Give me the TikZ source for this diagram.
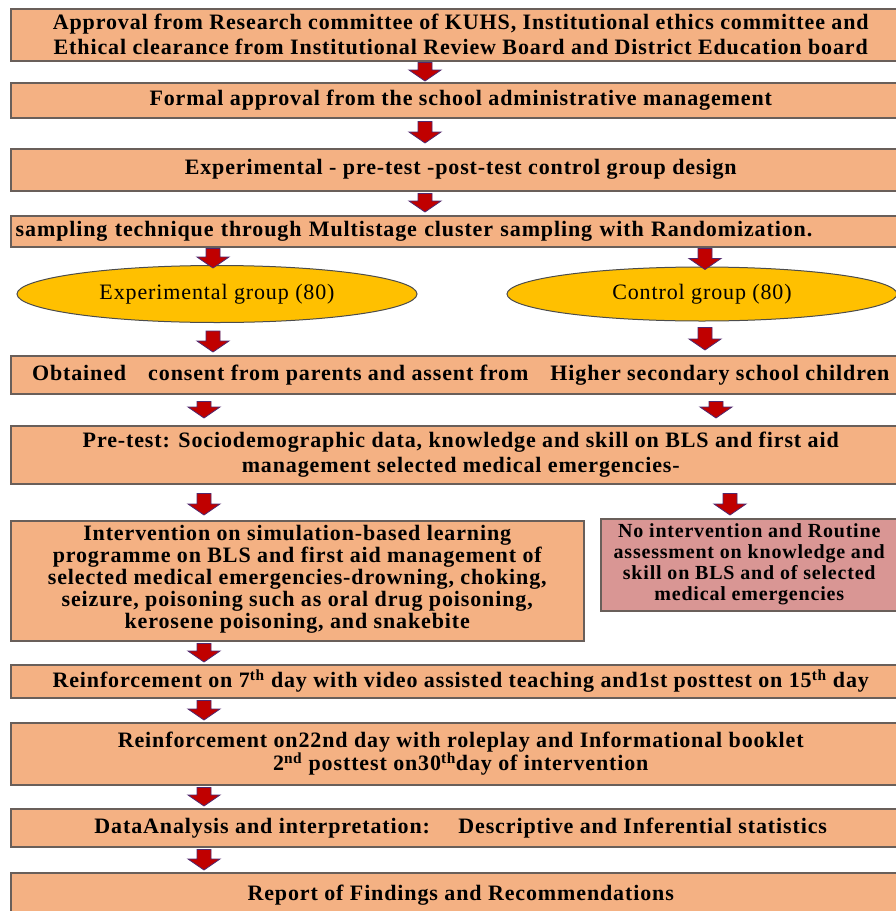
\documentclass[tikz,border=0pt]{standalone}
\usepackage{fontspec}
\setmainfont{Liberation Serif}[LetterSpace=4]
\usetikzlibrary{shapes.geometric,calc}

\definecolor{peach}{RGB}{244,177,131}
\definecolor{boxline}{RGB}{105,95,90}
\definecolor{gold}{RGB}{255,192,0}
\definecolor{rose}{RGB}{217,150,148}
\definecolor{arrred}{RGB}{192,0,0}
\definecolor{arrline}{RGB}{80,40,110}

\newcommand{\bxfont}{\fontsize{22}{25}\selectfont\bfseries}

\tikzset{
  stepbox/.style={draw=boxline, line width=1.5pt, fill=peach, anchor=north west,
    minimum width=900pt, align=center, font=\bxfont, inner sep=2pt},
  grpell/.style={ellipse, draw=black!70, line width=1pt, fill=gold,
    font=\fontsize{22}{25}\selectfont},
  gapin/.store in=\gapin, gapout/.store in=\gapout, gapin=2, gapout=2,
  blockarr/.style={fill=arrred, draw=arrline, line width=0.8pt,
    to path={let \p1=(\tikztostart), \p2=(\tikztotarget) in
      (\x1-7,\y1-\gapin) -- (\x1+7,\y1-\gapin) -- (\x1+7,\y2+\gapout+11)
      -- (\x1+16,\y2+\gapout+11) -- (\x1,\y2+\gapout) -- (\x1-16,\y2+\gapout+11)
      -- (\x1-7,\y2+\gapout+11) -- cycle}}
}

\begin{document}
\begin{tikzpicture}[x=1pt,y=-1pt]
\useasboundingbox (0,0) rectangle (896,911);

% arrow columns
\coordinate (cm) at (425,0);
\coordinate (cl1) at (213,0);
\coordinate (cl2) at (204,0);
\coordinate (cr1) at (705,0);
\coordinate (cr2) at (716,0);
\coordinate (cr3) at (730,0);

\node[stepbox, minimum height=52pt] (appr) at (10,8) {Approval from Research committee of KUHS, Institutional ethics committee and\\Ethical clearance from Institutional Review Board and District Education board};
\node[stepbox, minimum height=35pt] (form) at (10,82) {Formal approval from the school administrative management};
\node[stepbox, minimum height=42pt] (design) at (10,148) {Experimental - pre-test -post-test control group design};
\node[stepbox, minimum height=31pt, align=left, text width=890pt, inner xsep=4pt] (samp) at (10,215) {sampling technique through Multistage cluster sampling with Randomization.};

\node[grpell, minimum width=400pt, minimum height=57pt] (expg) at (217,294) {Experimental group (80)};
\node[grpell, minimum width=390pt, minimum height=54pt] (ctrl) at (702,294) {Control group (80)};

\node[stepbox, minimum height=38pt] (obt) at (10,355) {Obtained\quad consent from parents and assent from\quad Higher secondary school children};
\node[stepbox, minimum height=58pt] (pre) at (10,425) {Pre-test: Sociodemographic data, knowledge and skill on BLS and first aid\\management selected medical emergencies-};

\node[stepbox, minimum width=573pt, minimum height=120pt, font=\fontsize{22}{22}\selectfont\bfseries, text depth=8pt] (interv) at (10,520) {Intervention on simulation-based learning\\programme on BLS and first aid management of\\selected medical emergencies-drowning, choking,\\seizure, poisoning such as oral drug poisoning,\\kerosene poisoning, and snakebite};
\node[stepbox, fill=rose, minimum width=297pt, minimum height=92pt, font=\fontsize{20}{21}\selectfont\bfseries] (noint) at (600,518) {No intervention and Routine\\assessment on knowledge and\\skill on BLS and of selected\\medical emergencies};

\node[stepbox, minimum height=33pt] (reinfa) at (10,664) {Reinforcement on 7\textsuperscript{th} day with video assisted teaching and1st posttest on 15\textsuperscript{th} day};
\node[stepbox, minimum height=62pt] (reinfb) at (10,722) {Reinforcement on22nd day with roleplay and Informational booklet\\[-2pt]2\textsuperscript{nd} posttest on30\textsuperscript{th}day of intervention};
\node[stepbox, minimum height=38pt] (anal) at (10,808) {DataAnalysis and interpretation:\quad\ Descriptive and Inferential statistics};
\node[stepbox, minimum height=45pt] (rep) at (10,872) {Report of Findings and Recommendations};

% connectors
\draw[blockarr, gapin=1, gapout=1] (appr.south -| cm) to (form.north -| cm);
\draw[blockarr, gapin=3, gapout=5] (form.south -| cm) to (design.north -| cm);
\draw[blockarr, gapin=2, gapout=3] (design.south -| cm) to (samp.north -| cm);
\draw[blockarr, gapin=1, gapout=-3] (samp.south -| cl1) to (expg.north -| cl1);
\draw[blockarr, gapin=1, gapout=-3] (samp.south -| cr1) to (ctrl.north -| cr1);
\draw[blockarr, gapin=8, gapout=3] (expg.south -| cl1) to (obt.north -| cl1);
\draw[blockarr, gapin=6, gapout=5] (ctrl.south -| cr1) to (obt.north -| cr1);
\draw[blockarr, gapin=7, gapout=7] (obt.south -| cl2) to (pre.north -| cl2);
\draw[blockarr, gapin=7, gapout=7] (obt.south -| cr2) to (pre.north -| cr2);
\draw[blockarr, gapin=9, gapout=5] (pre.south -| cl2) to (interv.north -| cl2);
\draw[blockarr, gapin=9, gapout=3] (pre.south -| cr3) to (noint.north -| cr3);
\draw[blockarr] (interv.south -| cl2) to (reinfa.north -| cl2);
\draw[blockarr] (reinfa.south -| cl2) to (reinfb.north -| cl2);
\draw[blockarr] (reinfb.south -| cl2) to (anal.north -| cl2);
\draw[blockarr] (anal.south -| cl2) to (rep.north -| cl2);
\end{tikzpicture}
\end{document}
